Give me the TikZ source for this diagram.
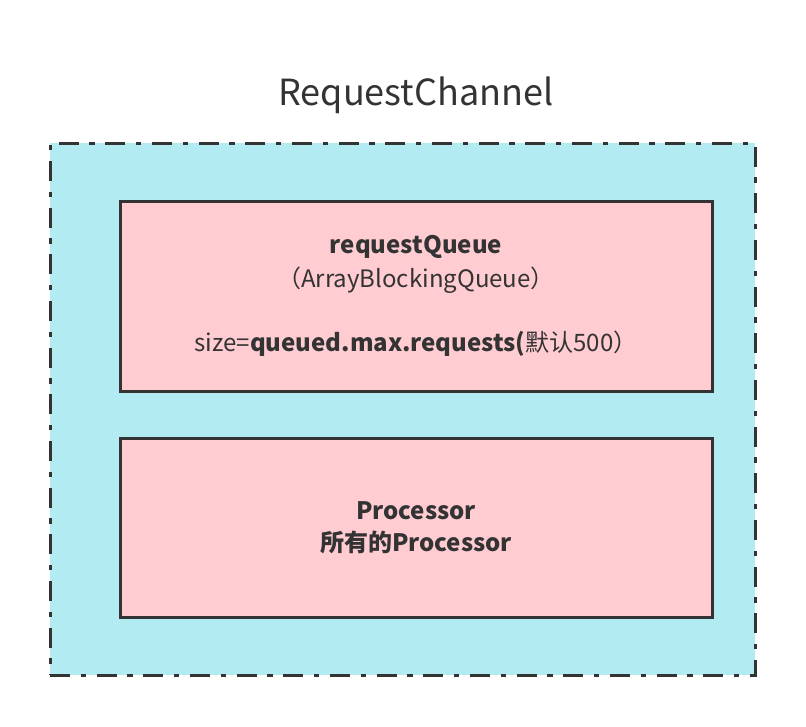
\documentclass[tikz,border=0pt]{standalone}
\usepackage{fontspec}
\setmainfont{Noto Sans CJK SC}
\usetikzlibrary{positioning}

\definecolor{chanfill}{RGB}{179,235,242}
\definecolor{boxfill}{RGB}{255,204,210}
\definecolor{edge}{RGB}{51,51,51}

\tikzset{
    chanbox/.style={draw=edge, fill=chanfill, line width=2.25pt,
        dash pattern=on 15pt off 8pt on 4pt off 8pt,
        minimum width=528.75pt, minimum height=399pt, inner sep=0pt},
    partbox/.style={draw=edge, fill=boxfill, line width=2.25pt,
        minimum width=444pt, inner sep=0pt, align=center, text=edge,
        font=\fontsize{18}{25.5}\selectfont},
}

\begin{document}
\begin{tikzpicture}[x=0.75pt, y=-0.75pt]
        \useasboundingbox (0,0) rectangle (806,726);
        
        % 标题
        \node[text=edge, font=\fontsize{27}{30}\selectfont] (title) at (416,95) {RequestChannel};
        
        % 外框
        \node[chanbox] (channel) at (402.5,409) {};
        
        % 请求队列
        \node[partbox, minimum height=142.5pt] (queue) at (416,296)
            {\textbf{requestQueue}\\（ArrayBlockingQueue）\\[23pt]size=\textbf{queued.max.requests(}默认500）};
        
        % 处理器
        \node[partbox, minimum height=134.25pt, font=\fontsize{18}{24}\selectfont] (proc) at (416,527.5)
            {\textbf{Processor}\\\textbf{所有的Processor}};
    \end{tikzpicture}
\end{document}
